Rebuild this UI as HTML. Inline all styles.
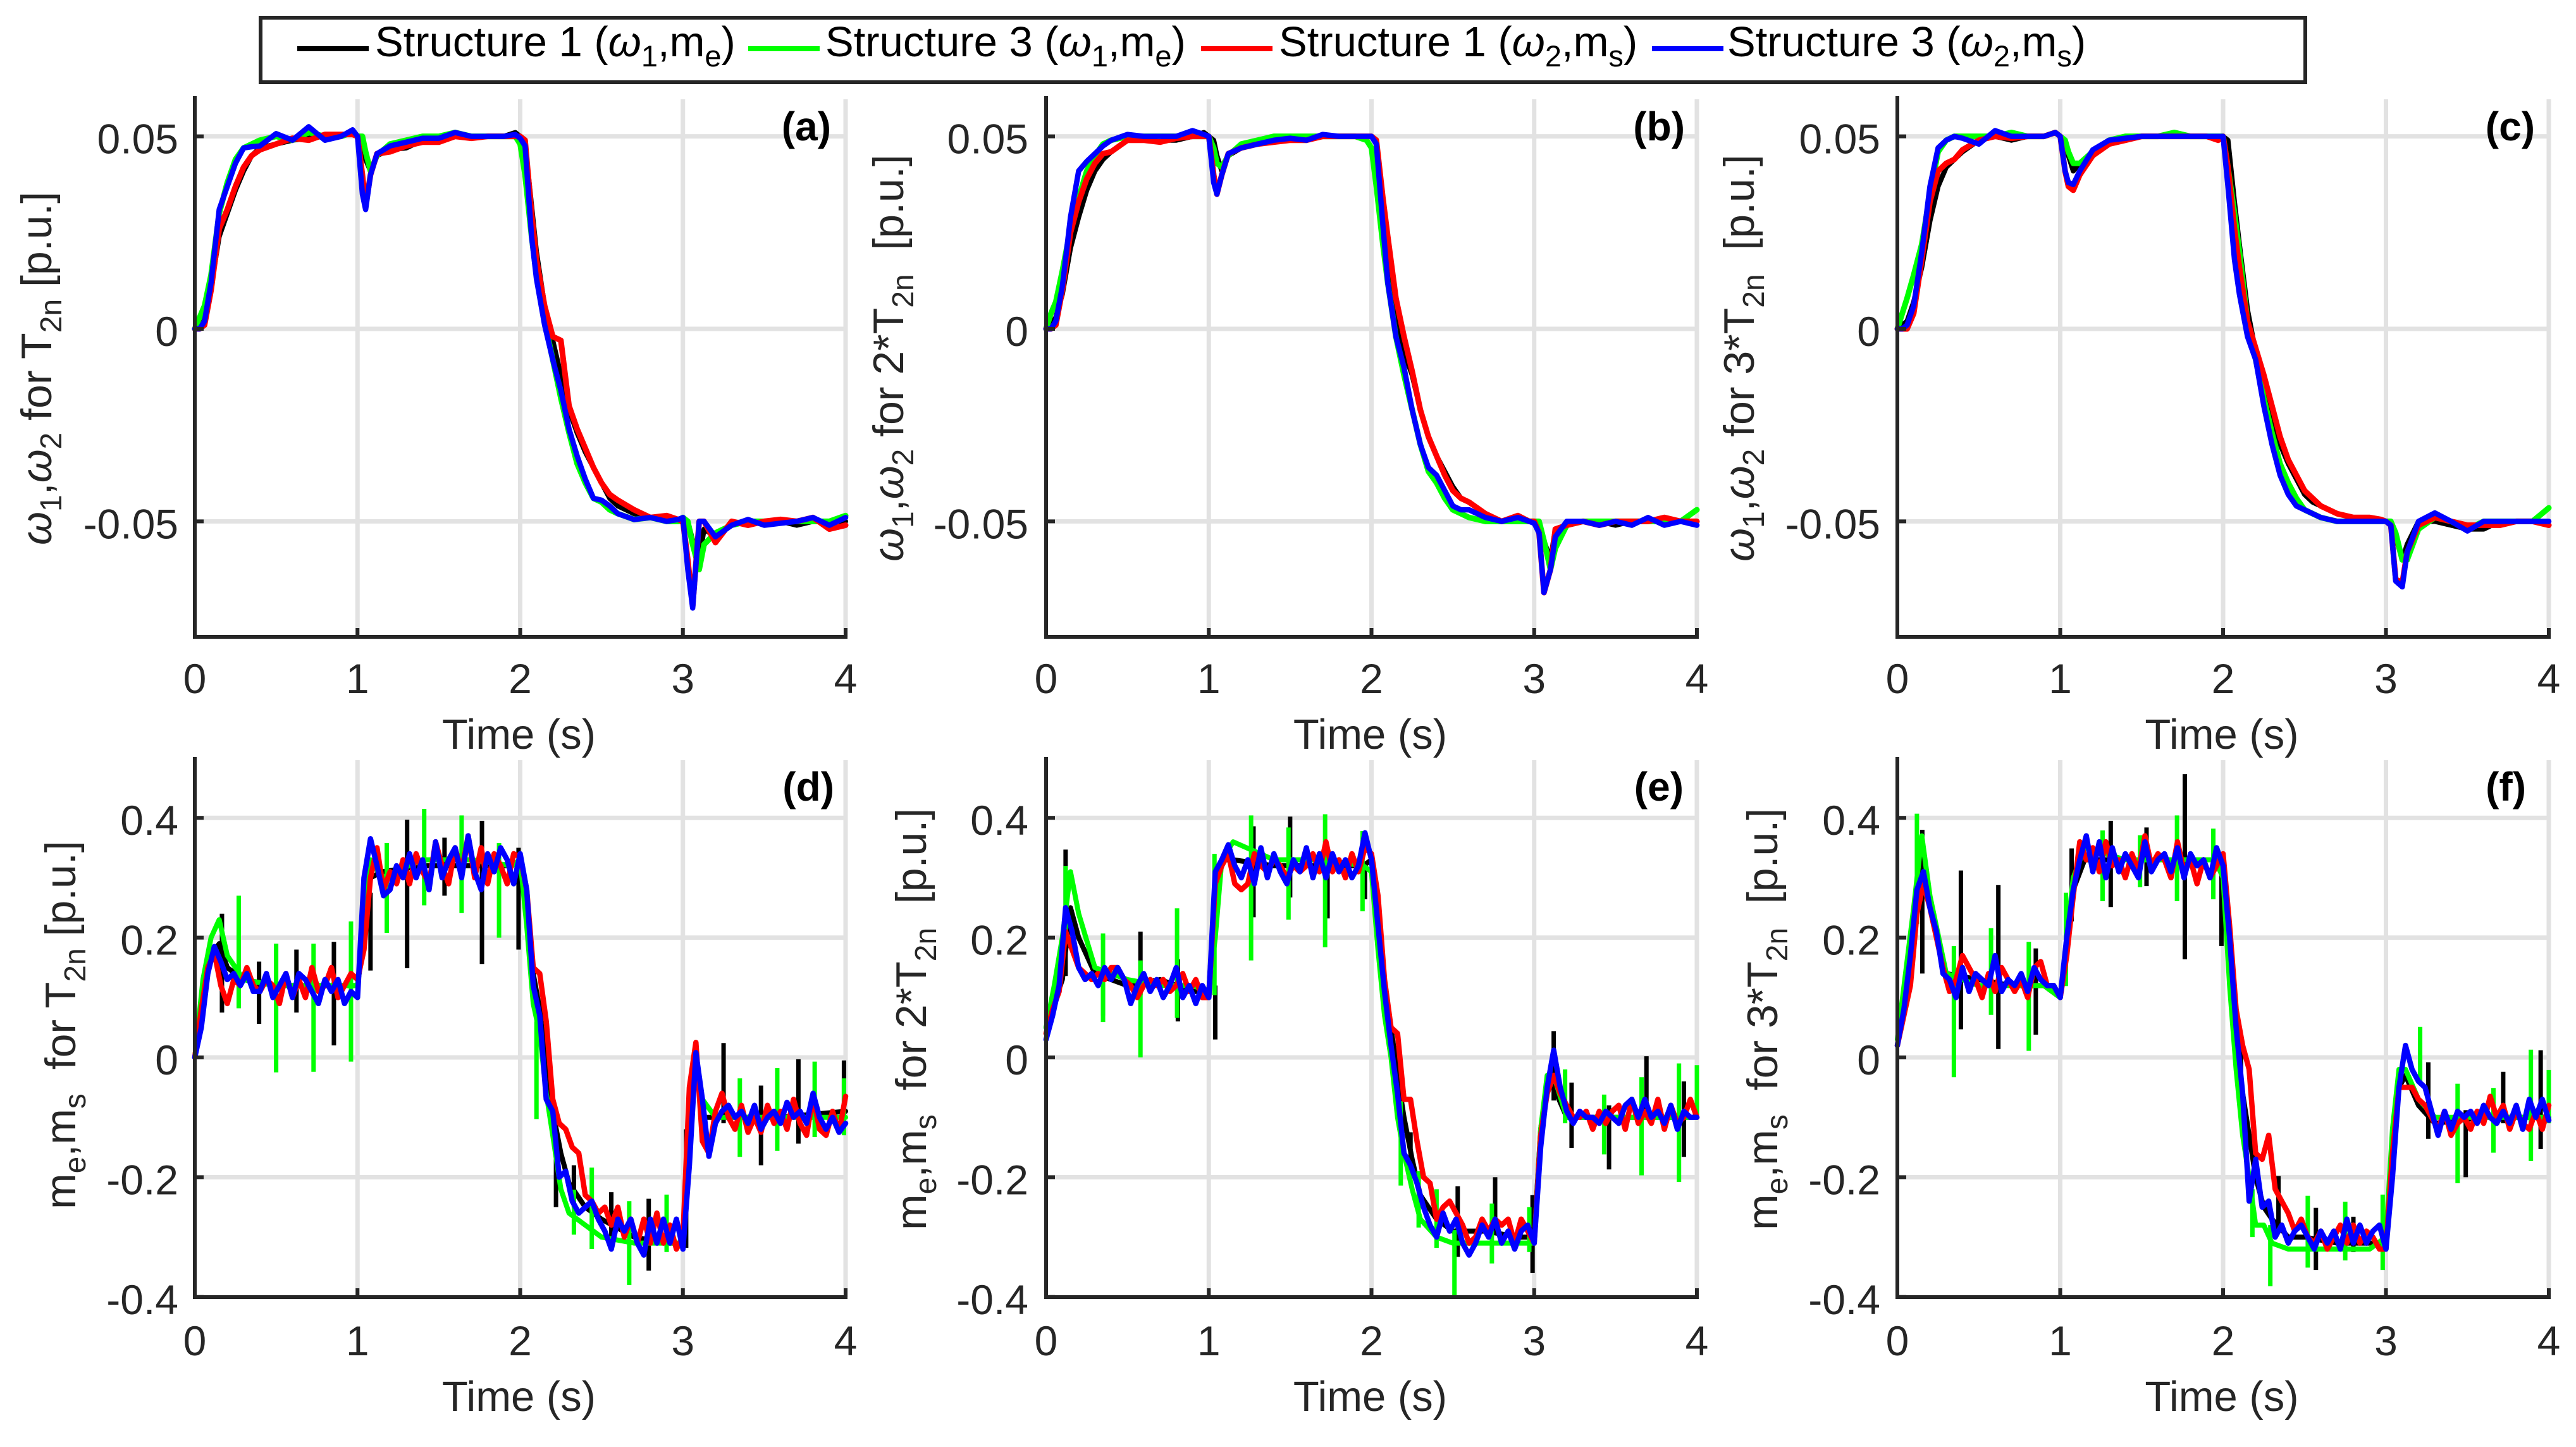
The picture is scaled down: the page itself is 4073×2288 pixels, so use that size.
<!DOCTYPE html>
<html lang="en">
<head>
<meta charset="utf-8">
<title>Structure 1 and Structure 3 speed and torque responses</title>
<style>
html,body{margin:0;padding:0;background:#fff;}
svg{display:block;font-family:"Liberation Sans",sans-serif;}
text{white-space:pre;}
</style>
</head>
<body>
<svg id="chart" xmlns="http://www.w3.org/2000/svg" width="4073" height="2288" viewBox="0 0 4073 2288">
<rect x="0" y="0" width="4073" height="2288" fill="#fff"/>
</svg>
<script>
/* ---------- axis ticks ---------- */
const timeTicks = [0, 1, 2, 3, 4];
const timeTickLabels = ['0', '1', '2', '3', '4'];
const speedTicks = [0.05, 0, -0.05];
const speedTickLabels = ['0.05', '0', '-0.05'];
const torqueTicks = [0.4, 0.2, 0, -0.2, -0.4];
const torqueTickLabels = ['0.4', '0.2', '0', '-0.2', '-0.4'];

/* ---------- speed panels: sample times (s) ---------- */
const speedTimes = [0,.03,.06,.1,.15,.2,.25,.3,.35,.4,.5,.6,.7,.8,.9,.97,1,1.03,1.05,1.08,1.12,1.2,1.3,1.4,1.5,1.6,1.7,1.8,1.9,1.97,2,2.03,2.07,2.1,2.15,2.2,2.25,2.3,2.35,2.4,2.45,2.5,2.55,2.6,2.7,2.8,2.9,2.97,3,3.03,3.06,3.1,3.13,3.2,3.3,3.4,3.5,3.6,3.7,3.8,3.9,4];

/* ---------- panel (a) speeds (p.u.) ---------- */
const speedBlackA = [0,.001,.003,.011,.024,.03,.036,.041,.045,.047,.048,.049,.0495,.05,.05,.051,.05,.048,.044,.041,.045,.0465,.047,.049,.049,.05,.05,.05,.05,.051,.05,.048,.032,.02,.006,-.003,-.012,-.021,-.027,-.032,-.036,-.04,-.044,-.046,-.048,-.049,-.049,-.05,-.05,-.05,-.055,-.06,-.052,-.054,-.051,-.05,-.05,-.05,-.051,-.05,-.05,-.05];
const speedGreenA = [0,.003,.006,.014,.03,.038,.044,.047,.048,.049,.05,.049,.051,.05,.05,.051,.05,.05,.046,.041,.045,.048,.049,.05,.05,.051,.05,.05,.05,.05,.048,.04,.024,.014,.002,-.008,-.018,-.027,-.035,-.04,-.044,-.045,-.047,-.048,-.0495,-.049,-.05,-.05,-.049,-.05,-.056,-.0625,-.056,-.053,-.051,-.05,-.05,-.05,-.05,-.05,-.05,-.0485];
const speedRedA = [0,0,.001,.01,.026,.031,.037,.042,.045,.0465,.048,.0495,.049,.0505,.0505,.0505,.05,.04,.032,.04,.0455,.046,.0475,.0485,.0485,.05,.0495,.05,.05,.05,.05,.049,.03,.018,.006,-.002,-.003,-.02,-.026,-.031,-.036,-.04,-.043,-.0445,-.047,-.049,-.0485,-.0495,-.05,-.06,-.072,-.05,-.05,-.0555,-.05,-.051,-.05,-.0495,-.05,-.049,-.052,-.051];
const speedBlueA = [0,0,.002,.012,.031,.037,.043,.047,.0473,.0475,.0507,.049,.0525,.049,.05,.0517,.05,.035,.031,.04,.0455,.0475,.0485,.0495,.0495,.051,.05,.05,.05,.0505,.0495,.0475,.024,.013,.001,-.008,-.016,-.026,-.033,-.039,-.044,-.0445,-.046,-.048,-.0495,-.049,-.05,-.0495,-.049,-.0625,-.0725,-.05,-.05,-.054,-.051,-.0495,-.051,-.0505,-.05,-.049,-.051,-.049];

/* ---------- panel (b) speeds (p.u.) ---------- */
const speedBlackB = [0,.001,.003,.009,.021,.029,.036,.041,.044,.046,.049,.049,.049,.049,.05,.051,.05,.049,.045,.041,.045,.047,.048,.049,.049,.05,.05,.05,.05,.05,.05,.048,.031,.02,.005,-.006,-.012,-.021,-.028,-.033,-.037,-.041,-.044,-.045,-.048,-.05,-.049,-.05,-.05,-.051,-.055,-.06,-.052,-.051,-.05,-.05,-.051,-.05,-.05,-.05,-.05,-.05];
const speedGreenB = [0,.004,.007,.015,.026,.034,.041,.045,.048,.049,.05,.05,.05,.05,.05,.05,.05,.047,.043,.042,.045,.048,.049,.05,.05,.05,.05,.05,.05,.049,.047,.037,.022,.012,-.002,-.012,-.021,-.03,-.037,-.04,-.044,-.047,-.048,-.049,-.05,-.05,-.05,-.05,-.05,-.05,-.055,-.0625,-.057,-.051,-.05,-.05,-.05,-.05,-.05,-.05,-.05,-.047];
const speedRedB = [0,0,.001,.01,.025,.033,.039,.043,.0455,.046,.049,.049,.0485,.0495,.05,.05,.05,.04,.035,.04,.0455,.047,.048,.0485,.049,.049,.05,.05,.05,.05,.05,.049,.034,.024,.008,-.002,-.011,-.021,-.028,-.033,-.038,-.042,-.044,-.045,-.048,-.05,-.0485,-.05,-.05,-.053,-.0685,-.0625,-.052,-.051,-.05,-.051,-.05,-.05,-.05,-.049,-.05,-.05];
const speedBlueB = [0,0,.002,.011,.029,.041,.0435,.0455,.0475,.049,.0505,.05,.05,.05,.0515,.0505,.05,.038,.035,.04,.0455,.047,.048,.049,.0495,.049,.0505,.05,.05,.05,.05,.048,.027,.012,-.002,-.01,-.021,-.03,-.036,-.038,-.042,-.046,-.047,-.047,-.049,-.05,-.049,-.05,-.0505,-.053,-.0685,-.0625,-.054,-.05,-.05,-.051,-.05,-.051,-.049,-.051,-.05,-.051];

/* ---------- panel (c) speeds (p.u.) ---------- */
const speedBlackC = [0,.001,.002,.007,.016,.028,.037,.042,.044,.046,.049,.05,.049,.05,.05,.051,.05,.049,.045,.041,.043,.046,.048,.049,.05,.05,.05,.05,.05,.05,.05,.049,.033,.022,.005,-.006,-.016,-.024,-.03,-.035,-.039,-.043,-.045,-.046,-.048,-.049,-.049,-.05,-.05,-.05,-.054,-.06,-.056,-.05,-.05,-.051,-.052,-.052,-.05,-.05,-.05,-.05];
const speedGreenC = [0,.004,.008,.014,.022,.035,.046,.049,.05,.05,.05,.05,.051,.05,.05,.051,.05,.049,.046,.043,.043,.046,.049,.05,.05,.05,.051,.05,.05,.05,.05,.042,.03,.02,.002,-.008,-.018,-.027,-.035,-.04,-.044,-.047,-.048,-.049,-.05,-.05,-.05,-.05,-.05,-.05,-.053,-.06,-.06,-.052,-.049,-.05,-.052,-.05,-.05,-.05,-.05,-.0465];
const speedRedC = [0,0,0,.004,.018,.033,.041,.043,.044,.0465,.049,.05,.0495,.05,.05,.051,.05,.041,.037,.036,.04,.045,.048,.049,.05,.05,.05,.05,.05,.049,.05,.042,.026,.016,.002,-.005,-.012,-.02,-.028,-.034,-.038,-.042,-.044,-.046,-.048,-.049,-.049,-.0495,-.05,-.051,-.065,-.066,-.058,-.051,-.049,-.05,-.051,-.051,-.051,-.05,-.05,-.051];
const speedBlueC = [0,0,.001,.006,.02,.037,.047,.049,.05,.0495,.048,.0515,.05,.05,.05,.051,.05,.041,.038,.0375,.041,.0465,.049,.0495,.05,.05,.05,.05,.05,.05,.05,.037,.018,.009,-.002,-.008,-.02,-.03,-.038,-.043,-.046,-.047,-.048,-.049,-.05,-.05,-.05,-.05,-.05,-.051,-.0655,-.067,-.058,-.05,-.0478,-.05,-.0525,-.05,-.05,-.05,-.05,-.05];

/* ---------- torque panels: sample times ---------- */
const torqueSamplePeriod = 0.04;
const torqueBaseTimes = [0,.05,.1,.15,.2,.3,.5,.7,.9,1,1.04,1.08,1.15,1.4,1.7,1.95,2,2.04,2.08,2.12,2.16,2.2,2.25,2.3,2.4,2.5,2.7,2.9,3,3.04,3.08,3.12,3.2,3.3,3.6,4];

/* ---------- panel (d) torques (p.u.) ---------- */
const torqueBlackD = [0,.1,.17,.19,.15,.13,.12,.12,.12,.12,.2,.3,.31,.32,.32,.32,.33,.25,.14,.08,-.02,-.09,-.16,-.21,-.25,-.27,-.3,-.31,-.31,-.1,0,-.1,-.1,-.1,-.1,-.09];
const torqueGreenD = [0,.13,.2,.23,.17,.13,.12,.12,.12,.12,.22,.33,.3,.33,.33,.32,.33,.22,.09,.04,-.06,-.13,-.22,-.26,-.28,-.3,-.31,-.31,-.31,-.1,0,-.07,-.1,-.1,-.1,-.1];
const torqueRedD = [0,.08,.15,.175,.12,.09,.13,.12,.15,.12,.11,.13,.12,.09,.14,.10,.13,.10,.15,.11,.12,.15,.10,.12,.14,.13,
 .18,.3,.35,.28,.31,.29,.33,.29,.34,.31,.29,.36,.32,.29,.35,.31,.37,.30,.35,.29,.34,.32,.29,.34,.335,
 .28,.15,.14,.06,-.07,-.11,-.12,-.15,-.16,-.23,-.24,-.26,-.25,-.28,-.25,-.30,-.27,-.31,-.27,-.31,-.26,-.31,-.28,-.32,-.30,
 -.05,.025,-.14,-.16,-.09,-.06,-.10,-.12,-.08,-.125,-.10,-.125,-.08,-.11,-.09,-.12,-.07,-.11,-.13,-.065,-.12,-.13,-.09,-.125,-.065];
const torqueBlueD = [0,.05,.14,.185,.16,.13,.14,.12,.14,.11,.11,.14,.10,.12,.14,.10,.14,.13,.11,.09,.13,.11,.13,.09,.11,.10,
 .30,.365,.32,.27,.28,.32,.30,.34,.30,.33,.28,.36,.30,.33,.35,.30,.37,.31,.28,.34,.31,.35,.33,.29,.34,
 .28,.12,.07,-.07,-.09,-.2,-.19,-.24,-.26,-.25,-.24,-.27,-.29,-.32,-.27,-.29,-.27,-.31,-.33,-.27,-.31,-.27,-.31,-.27,-.32,
 -.18,.008,-.07,-.165,-.11,-.09,-.08,-.10,-.09,-.11,-.08,-.12,-.10,-.09,-.11,-.075,-.10,-.09,-.11,-.06,-.10,-.12,-.10,-.125,-.11];
const spikeTimesBlackD = [.167,.395,.625,.855,1.08,1.305,1.535,1.765,1.99,2.22,2.33,2.56,2.79,3.02,3.25,3.48,3.71,3.99];
const spikeHighBlackD = [.24,.16,.18,.193,.275,.397,.367,.395,.35,-.125,-.18,-.225,-.236,-.12,.024,-.047,-.003,-.005];
const spikeLowBlackD = [.075,.056,.075,.02,.145,.149,.27,.156,.18,-.25,-.25,-.318,-.356,-.318,-.11,-.18,-.144,-.11];
const spikeTimesGreenD = [.27,.5,.73,.96,1.18,1.41,1.64,1.87,2.1,2.33,2.44,2.67,2.9,3.35,3.58,3.81,3.99];
const spikeHighGreenD = [.27,.19,.19,.227,.358,.415,.404,.358,.06,-.221,-.184,-.24,-.229,-.035,-.018,-.007,-.035];
const spikeLowGreenD = [.082,-.025,-.024,-.007,.208,.254,.241,.2,-.103,-.296,-.32,-.38,-.325,-.166,-.156,-.133,-.13];

/* ---------- panel (e) torques (p.u.) ---------- */
const torqueBlackE = [.05,.09,.13,.25,.2,.14,.12,.13,.11,.11,.28,.33,.33,.32,.32,.32,.33,.22,.12,.05,-.03,-.1,-.17,-.23,-.27,-.29,-.29,-.3,-.3,-.12,-.04,-.05,-.1,-.1,-.1,-.1];
const torqueGreenE = [.05,.12,.2,.31,.24,.15,.13,.12,.12,.11,.2,.33,.36,.33,.33,.32,.31,.18,.07,0,-.1,-.16,-.22,-.27,-.3,-.31,-.31,-.31,-.31,-.12,-.03,-.03,-.1,-.1,-.1,-.1];
const torqueRedE = [.04,.08,.11,.21,.18,.15,.14,.13,.14,.13,.15,.15,.13,.12,.10,.12,.13,.12,.13,.11,.12,.14,.11,.13,.10,.10,
 .29,.32,.34,.29,.28,.29,.34,.32,.31,.33,.32,.30,.32,.31,.32,.34,.31,.36,.31,.33,.30,.34,.31,.35,.34,
 .27,.13,.05,.04,-.07,-.07,-.14,-.2,-.21,-.27,-.25,-.24,-.26,-.28,-.31,-.30,-.27,-.29,-.27,-.28,-.27,-.31,-.27,-.29,-.31,
 -.13,-.06,-.03,-.06,-.08,-.10,-.10,-.09,-.12,-.09,-.11,-.09,-.08,-.12,-.07,-.11,-.09,-.11,-.07,-.12,-.08,-.11,-.10,-.07,-.10];
const torqueBlueE = [.03,.07,.12,.25,.21,.15,.13,.14,.12,.15,.13,.15,.13,.09,.12,.14,.11,.13,.10,.12,.15,.10,.12,.09,.12,.10,
 .31,.33,.355,.32,.30,.33,.29,.35,.30,.34,.31,.29,.33,.31,.35,.30,.34,.30,.34,.31,.33,.30,.32,.375,.33,
 .22,.11,.02,-.06,-.16,-.18,-.21,-.25,-.28,-.30,-.26,-.29,-.27,-.31,-.33,-.31,-.28,-.30,-.27,-.31,-.29,-.32,-.29,-.28,-.31,
 -.15,-.05,.012,-.05,-.09,-.11,-.09,-.10,-.10,-.11,-.09,-.10,-.11,-.08,-.07,-.10,-.07,-.10,-.09,-.11,-.08,-.12,-.09,-.10,-.10];
const spikeTimesBlackE = [.12,.35,.58,.81,1.04,1.275,1.5,1.73,1.96,2.24,2.53,2.76,2.99,3.12,3.23,3.46,3.69,3.92];
const spikeHighBlackE = [.347,.16,.21,.164,.12,.386,.402,.342,.327,-.125,-.215,-.2,-.23,.044,-.042,-.08,.002,-.04];
const spikeLowBlackE = [.136,.07,.104,.06,.03,.234,.267,.232,.264,-.17,-.333,-.296,-.36,-.072,-.151,-.187,-.096,-.166];
const spikeTimesGreenE = [.12,.35,.58,.805,1.035,1.26,1.49,1.715,1.945,2.18,2.29,2.4,2.51,2.74,2.97,3.19,3.43,3.66,3.89,4];
const spikeHighGreenE = [.32,.207,.162,.249,.34,.404,.384,.406,.378,-.073,-.19,-.22,-.288,-.244,-.25,-.02,-.062,-.033,-.01,-.013];
const spikeLowGreenE = [.2,.059,0,.066,.104,.162,.23,.184,.244,-.214,-.284,-.318,-.4,-.344,-.325,-.11,-.162,-.197,-.208,-.096];

/* ---------- panel (f) torques (p.u.) ---------- */
const torqueBlackF = [.02,.1,.2,.33,.25,.14,.13,.12,.12,.1,.18,.28,.33,.33,.33,.33,.32,.16,.03,-.06,-.13,-.2,-.25,-.27,-.3,-.3,-.31,-.31,-.31,-.15,-.05,-.03,-.08,-.11,-.1,-.1];
const torqueGreenF = [.03,.14,.25,.37,.27,.14,.12,.12,.12,.1,.2,.3,.35,.33,.33,.33,.3,.12,-.02,-.13,-.2,-.28,-.28,-.31,-.32,-.32,-.32,-.32,-.3,-.12,-.02,-.02,-.07,-.1,-.1,-.1];
const torqueRedF = [.02,.07,.12,.24,.29,.25,.20,.15,.11,.13,.17,.15,.13,.10,.14,.11,.15,.13,.11,.13,.10,.15,.16,.12,.12,.10,
 .17,.27,.36,.33,.35,.31,.36,.32,.33,.30,.34,.31,.37,.32,.34,.33,.30,.36,.31,.33,.29,.33,.30,.32,.34,
 .22,.08,.02,-.02,-.16,-.17,-.13,-.22,-.24,-.26,-.29,-.27,-.30,-.31,-.29,-.32,-.30,-.28,-.31,-.28,-.31,-.29,-.30,-.32,-.32,
 -.16,-.05,-.05,-.05,-.07,-.08,-.10,-.12,-.09,-.13,-.11,-.10,-.12,-.09,-.11,-.065,-.10,-.08,-.12,-.09,-.11,-.12,-.09,-.12,-.08];
const torqueBlueF = [.02,.08,.17,.28,.31,.25,.21,.14,.13,.10,.15,.11,.14,.13,.12,.17,.11,.13,.12,.14,.11,.15,.13,.12,.12,.10,
 .2,.28,.33,.37,.31,.36,.30,.35,.31,.34,.32,.30,.36,.31,.33,.34,.31,.35,.30,.34,.32,.33,.30,.35,.32,
 .2,.05,-.06,-.24,-.17,-.25,-.24,-.30,-.28,-.31,-.29,-.28,-.30,-.32,-.29,-.31,-.29,-.32,-.27,-.31,-.28,-.31,-.29,-.28,-.32,
 -.2,-.05,.02,-.02,-.04,-.05,-.09,-.13,-.09,-.12,-.09,-.10,-.09,-.11,-.08,-.10,-.11,-.09,-.11,-.08,-.12,-.07,-.10,-.07,-.105];
const spikeTimesBlackF = [.153,.39,.62,.85,1.07,1.31,1.53,1.765,1.99,2.11,2.34,2.57,2.8,3.26,3.49,3.72,3.95];
const spikeHighBlackF = [.38,.312,.288,.182,.349,.395,.384,.473,.341,.03,-.198,-.251,-.266,-.008,-.088,-.024,.012];
const spikeLowBlackF = [.14,.047,.014,.038,.227,.251,.286,.164,.186,-.066,-.288,-.355,-.325,-.136,-.2,-.11,-.153];
const spikeTimesGreenF = [.12,.347,.575,.807,1.035,1.26,1.49,1.717,1.94,2.18,2.29,2.52,2.75,2.98,3.21,3.44,3.66,3.89,4];
const spikeHighGreenF = [.407,.186,.216,.193,.275,.379,.371,.404,.382,-.22,-.28,-.231,-.241,-.229,.051,-.044,-.051,.013,-.021];
const spikeLowGreenF = [.223,-.033,.071,.011,.119,.261,.284,.261,.264,-.3,-.382,-.351,-.339,-.355,-.044,-.21,-.159,-.173,-.11];

/* ---------- drawing ---------- */
const NS = 'http://www.w3.org/2000/svg';
const svg = document.getElementById('chart');
const INK = '#262626';
const GRID = '#e2e2e2';
const COLORS = {black:'#000000', green:'#00ff00', red:'#ff0000', blue:'#0000ff'};

function shape(parent, tag, name, props, text) {
  const el = document.createElementNS(NS, tag);
  
  
  for (const k in props) el.setAttribute(k, props[k]);
  if (text !== undefined) el.textContent = text;
  parent.appendChild(el);
  return el;
}

/* rich text: parts are [string, 'n' normal | 's' subscript | 'g' greek] */
function richText(parent, name, props, parts, subSize, subDrop) {
  const t = shape(parent, 'text', name, props);
  let lowered = false;
  parts.forEach(function (p) {
    const sp = document.createElementNS(NS, 'tspan');
    
    
    if (p[1] === 's') {
      sp.setAttribute('font-size', subSize);
      if (!lowered) sp.setAttribute('dy', subDrop);
      lowered = true;
    } else {
      if (lowered) sp.setAttribute('dy', -subDrop);
      lowered = false;
      if (p[1] === 'g') sp.setAttribute('font-style', 'italic');
    }
    sp.textContent = p[0];
    t.appendChild(sp);
  });
  return t;
}

function polyPoints(times, values, xf, yf) {
  return values.map(function (v, i) {
    return xf(times[i]).toFixed(1) + ',' + yf(v).toFixed(1);
  }).join(' ');
}

function drawSeries(g, name, times, values, color, width, xf, yf) {
  shape(g, 'polyline', name, {
    points: polyPoints(times, values, xf, yf),
    fill: 'none', stroke: color, 'stroke-width': width,
    'stroke-linejoin': 'round', 'stroke-linecap': 'round'
  });
}

function drawSpikes(g, name, times, highs, lows, color, xf, yf) {
  times.forEach(function (t, i) {
    shape(g, 'line', name, {
      x1: xf(t), x2: xf(t), y1: yf(highs[i]), y2: yf(lows[i]),
      stroke: color, 'stroke-width': 7
    });
  });
}

const speedY = function (v) { return 520 - v * 6088; };
const torqueY = function (v) { return 1672 - v * 947; };
const torqueTimes = torqueRedD.map(function (_, i) { return i * torqueSamplePeriod; });

const W = ['\u03c9', 'g'];
const rows = {
  speed: {top:152, bottom:1007, yf:speedY, ticks:speedTicks, labels:speedTickLabels, xLabelY:1096, timeY:1184},
  torque: {top:1197, bottom:2051, yf:torqueY, ticks:torqueTicks, labels:torqueTickLabels, xLabelY:2143, timeY:2231}
};

const panels = [
  {id:'a', row:'speed', x0:308, x4:1337, labelRight:1314, labelY:222, tickRight:282, titleX:81, titleBottom:862,
   title:[W,['1','s'],[',','n'],W,['2','s'],[' for T','n'],['2n','s'],[' [p.u.]','n']],
   series:[speedBlackA,speedGreenA,speedRedA,speedBlueA]},
  {id:'b', row:'speed', x0:1654, x4:2683, labelRight:2664, labelY:222, tickRight:1626, titleX:1428, titleBottom:888,
   title:[W,['1','s'],[',','n'],W,['2','s'],[' for 2*T','n'],['2n','s'],['  [p.u.]','n']],
   series:[speedBlackB,speedGreenB,speedRedB,speedBlueB]},
  {id:'c', row:'speed', x0:3000, x4:4030, labelRight:4008, labelY:222, tickRight:2973, titleX:2773, titleBottom:888,
   title:[W,['1','s'],[',','n'],W,['2','s'],[' for 3*T','n'],['2n','s'],['  [p.u.]','n']],
   series:[speedBlackC,speedGreenC,speedRedC,speedBlueC]},
  {id:'d', row:'torque', x0:308, x4:1337, labelRight:1319, labelY:1266, tickRight:282, titleX:119, titleBottom:1912,
   title:[['m','n'],['e','s'],[',m','n'],['s','s'],['  for T','n'],['2n','s'],[' [p.u.]','n']],
   series:[torqueBlackD,torqueGreenD,torqueRedD,torqueBlueD],
   spikesBlack:[spikeTimesBlackD,spikeHighBlackD,spikeLowBlackD],
   spikesGreen:[spikeTimesGreenD,spikeHighGreenD,spikeLowGreenD]},
  {id:'e', row:'torque', x0:1654, x4:2683, labelRight:2662, labelY:1266, tickRight:1626, titleX:1464, titleBottom:1945,
   title:[['m','n'],['e','s'],[',m','n'],['s','s'],['  for 2*T','n'],['2n','s'],['  [p.u.]','n']],
   series:[torqueBlackE,torqueGreenE,torqueRedE,torqueBlueE],
   spikesBlack:[spikeTimesBlackE,spikeHighBlackE,spikeLowBlackE],
   spikesGreen:[spikeTimesGreenE,spikeHighGreenE,spikeLowGreenE]},
  {id:'f', row:'torque', x0:3000, x4:4030, labelRight:3994, labelY:1266, tickRight:2973, titleX:2810, titleBottom:1945,
   title:[['m','n'],['e','s'],[',m','n'],['s','s'],['  for 3*T','n'],['2n','s'],['  [p.u.]','n']],
   series:[torqueBlackF,torqueGreenF,torqueRedF,torqueBlueF],
   spikesBlack:[spikeTimesBlackF,spikeHighBlackF,spikeLowBlackF],
   spikesGreen:[spikeTimesGreenF,spikeHighGreenF,spikeLowGreenF]}
];

panels.forEach(function (p) {
  const r = rows[p.row];
  const xf = function (t) { return p.x0 + (p.x4 - p.x0) * t / 4; };
  const yf = r.yf;
  const g = shape(svg, 'g', 'panel-' + p.id, {});

  /* grid */
  timeTicks.forEach(function (t) {
    if (t === 0) return;
    shape(g, 'line', 'x-grid-line', {x1:xf(t), x2:xf(t), y1:r.top + 5, y2:r.bottom, stroke:GRID, 'stroke-width':7});
  });
  r.ticks.forEach(function (v) {
    shape(g, 'line', 'y-grid-line', {x1:p.x0, x2:p.x4, y1:yf(v), y2:yf(v), stroke:GRID, 'stroke-width':7});
  });

  /* series, in legend order */
  if (p.row === 'speed') {
    drawSeries(g, 'structure-1-omega-1-line', speedTimes, p.series[0], COLORS.black, 8, xf, yf);
    drawSeries(g, 'structure-3-omega-1-line', speedTimes, p.series[1], COLORS.green, 9, xf, yf);
    drawSeries(g, 'structure-1-omega-2-line', speedTimes, p.series[2], COLORS.red, 9, xf, yf);
    drawSeries(g, 'structure-3-omega-2-line', speedTimes, p.series[3], COLORS.blue, 8.5, xf, yf);
  } else {
    drawSeries(g, 'structure-1-me-line', torqueBaseTimes, p.series[0], COLORS.black, 8, xf, yf);
    drawSpikes(g, 'structure-1-me-spike', p.spikesBlack[0], p.spikesBlack[1], p.spikesBlack[2], COLORS.black, xf, yf);
    drawSeries(g, 'structure-3-me-line', torqueBaseTimes, p.series[1], COLORS.green, 8, xf, yf);
    drawSpikes(g, 'structure-3-me-spike', p.spikesGreen[0], p.spikesGreen[1], p.spikesGreen[2], COLORS.green, xf, yf);
    drawSeries(g, 'structure-1-ms-line', torqueTimes, p.series[2], COLORS.red, 8.5, xf, yf);
    drawSeries(g, 'structure-3-ms-line', torqueTimes, p.series[3], COLORS.blue, 8.5, xf, yf);
  }

  /* axes */
  shape(g, 'line', 'y-axis-line', {x1:p.x0, x2:p.x0, y1:r.top, y2:r.bottom + 3, stroke:INK, 'stroke-width':6});
  shape(g, 'line', 'x-axis-line', {x1:p.x0 - 3, x2:p.x4 + 3, y1:r.bottom, y2:r.bottom, stroke:INK, 'stroke-width':6});

  timeTicks.forEach(function (t, i) {
    if (t !== 0) shape(g, 'line', 'x-tick', {x1:xf(t), x2:xf(t), y1:r.bottom, y2:r.bottom - 14, stroke:INK, 'stroke-width':6});
    shape(g, 'text', 'x-tick-label', {x:xf(t), y:r.xLabelY, 'text-anchor':'middle', 'font-size':66, fill:INK}, timeTickLabels[i]);
  });
  r.ticks.forEach(function (v, i) {
    shape(g, 'line', 'y-tick', {x1:p.x0, x2:p.x0 + 14, y1:yf(v), y2:yf(v), stroke:INK, 'stroke-width':6});
    shape(g, 'text', 'y-tick-label', {x:p.tickRight, y:yf(v) + 27, 'text-anchor':'end', 'font-size':66, fill:INK}, r.labels[i]);
  });

  /* labels */
  shape(g, 'text', 'x-axis-title', {x:xf(2) - 2, y:r.timeY, 'text-anchor':'middle', 'font-size':67, fill:INK}, 'Time (s)');
  richText(g, 'y-axis-title', {
    x:p.titleX, y:p.titleBottom, 'font-size':68, fill:INK,
    transform:'rotate(-90 ' + p.titleX + ' ' + p.titleBottom + ')'
  }, p.title, 48, 16);
  shape(g, 'text', 'panel-label-' + p.id, {x:p.labelRight, y:p.labelY, 'text-anchor':'end', 'font-size':64, 'font-weight':'bold', fill:'#000'}, '(' + p.id + ')');
});

/* ---------- legend ---------- */
const legend = shape(svg, 'g', 'legend', {});
shape(legend, 'rect', 'legend-frame', {x:412, y:28, width:3233, height:102, fill:'#fff', stroke:INK, 'stroke-width':6});
const legendStructures = ['Structure 1 (', 'Structure 3 (', 'Structure 1 (', 'Structure 3 ('];
const legendSpeedSubs = ['1', '1', '2', '2'];
const legendTorqueSubs = ['e', 'e', 's', 's'];
const legendColors = [COLORS.black, COLORS.green, COLORS.red, COLORS.blue];
const legendSwatchStart = [470, 1183, 1899, 2612];
const legendTextStart = [593, 1305, 2022, 2731];
legendStructures.forEach(function (label, i) {
  shape(legend, 'line', 'legend-swatch', {x1:legendSwatchStart[i], x2:legendSwatchStart[i] + 113, y1:77, y2:77, stroke:legendColors[i], 'stroke-width':8});
  richText(legend, 'legend-entry', {x:legendTextStart[i], y:89, 'font-size':67, fill:'#000'},
    [[label,'n'], W, [legendSpeedSubs[i],'s'], [',m','n'], [legendTorqueSubs[i],'s'], [')','n']], 47, 16);
});
</script>
</body>
</html>
